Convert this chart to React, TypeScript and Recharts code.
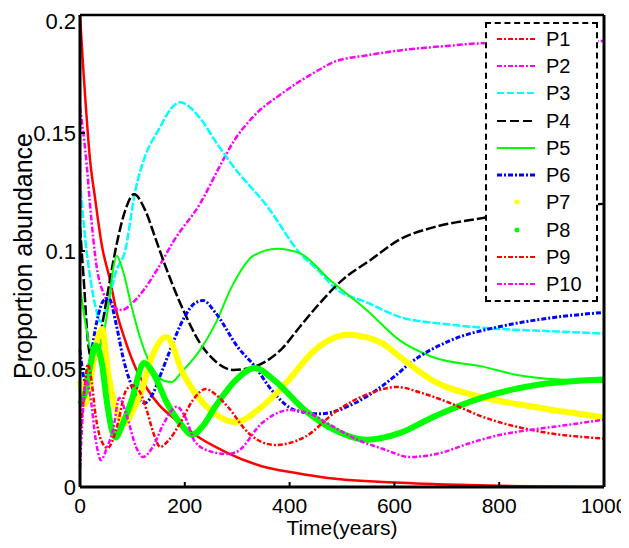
import { Legend, Line, LineChart, XAxis, YAxis } from "recharts"

type Pt = [number, number]

const xTicks = [0, 200, 400, 600, 800, 1000]
const yTicks = [0, 0.05, 0.1, 0.15, 0.2]

// values: [time (years), proportion]
const p1: Pt[] = [[0, 0.2], [6, 0.178], [10, 0.165], [19, 0.139], [29, 0.122], [42, 0.102], [57, 0.088], [70, 0.074], [85, 0.063], [107, 0.05], [130, 0.041], [150, 0.035], [180, 0.029], [220, 0.022], [282, 0.0144], [347, 0.0088], [410, 0.006], [473, 0.0038], [569, 0.0022], [700, 0.0011], [800, 0.0005], [900, 0.0002], [1000, 0.0001]]
const p2: Pt[] = [[0, 0.161], [13, 0.136], [19, 0.12], [32, 0.093], [45, 0.082], [60, 0.077], [80, 0.075], [100, 0.078], [120, 0.083], [147, 0.092], [181, 0.105], [229, 0.12], [267, 0.136], [292, 0.146], [331, 0.157], [387, 0.167], [458, 0.177], [483, 0.18], [550, 0.183], [611, 0.185], [706, 0.187], [769, 0.188], [850, 0.188], [1000, 0.189]]
const p3: Pt[] = [[0, 0.13], [10, 0.105], [20, 0.088], [30, 0.076], [40, 0.07], [55, 0.08], [70, 0.092], [86, 0.1], [105, 0.125], [124, 0.14], [149, 0.151], [181, 0.162], [191, 0.163], [230, 0.156], [260, 0.146], [292, 0.136], [357, 0.119], [420, 0.099], [458, 0.091], [483, 0.085], [550, 0.078], [611, 0.072], [700, 0.069], [800, 0.067], [900, 0.066], [1000, 0.065]]
const p4: Pt[] = [[0, 0.11], [8, 0.085], [15, 0.062], [25, 0.052], [35, 0.06], [45, 0.072], [55, 0.085], [72, 0.105], [86, 0.117], [103, 0.124], [125, 0.117], [143, 0.106], [159, 0.096], [197, 0.075], [229, 0.061], [260, 0.053], [292, 0.0496], [324, 0.0504], [387, 0.059], [420, 0.068], [458, 0.078], [502, 0.088], [553, 0.096], [611, 0.105], [674, 0.11], [769, 0.114], [850, 0.117], [1000, 0.12]]
const p5: Pt[] = [[0, 0.085], [10, 0.07], [22, 0.058], [35, 0.058], [45, 0.065], [55, 0.078], [63, 0.092], [70, 0.098], [80, 0.093], [99, 0.076], [115, 0.063], [128, 0.055], [145, 0.048], [160, 0.045], [175, 0.0445], [195, 0.049], [229, 0.058], [258, 0.069], [290, 0.085], [331, 0.098], [376, 0.101], [420, 0.099], [477, 0.0877], [547, 0.075], [611, 0.062], [674, 0.055], [769, 0.051], [834, 0.0475], [929, 0.0453], [1000, 0.0445]]
const p6: Pt[] = [[0, 0.058], [10, 0.045], [20, 0.055], [32, 0.07], [45, 0.079], [55, 0.08], [69, 0.069], [82, 0.055], [95, 0.045], [110, 0.038], [124, 0.0356], [140, 0.04], [158, 0.05], [172, 0.058], [197, 0.071], [220, 0.078], [235, 0.079], [258, 0.074], [302, 0.059], [334, 0.051], [366, 0.041], [410, 0.0326], [458, 0.031], [525, 0.0356], [601, 0.047], [630, 0.0525], [706, 0.062], [802, 0.068], [897, 0.0716], [1000, 0.074]]
const p7: Pt[] = [[0, 0.045], [10, 0.035], [20, 0.045], [30, 0.059], [42, 0.067], [54, 0.048], [72, 0.031], [86, 0.027], [100, 0.032], [118, 0.041], [137, 0.055], [165, 0.0636], [197, 0.048], [235, 0.0356], [258, 0.031], [296, 0.0275], [347, 0.034], [397, 0.045], [448, 0.058], [511, 0.0645], [576, 0.061], [611, 0.055], [674, 0.045], [769, 0.038], [865, 0.034], [1000, 0.0295]]
const p8: Pt[] = [[0, 0.035], [10, 0.04], [20, 0.052], [30, 0.06], [42, 0.052], [52, 0.035], [61, 0.024], [68, 0.021], [80, 0.026], [99, 0.037], [122, 0.0525], [140, 0.048], [166, 0.0356], [197, 0.0254], [213, 0.022], [235, 0.026], [258, 0.034], [296, 0.045], [334, 0.0504], [372, 0.045], [429, 0.0326], [487, 0.024], [547, 0.02], [611, 0.0229], [674, 0.0297], [769, 0.038], [865, 0.043], [1000, 0.0455]]
const p9: Pt[] = [[0, 0.02], [8, 0.04], [15, 0.052], [22, 0.045], [30, 0.03], [40, 0.02], [53, 0.0165], [70, 0.025], [88, 0.041], [100, 0.043], [115, 0.04], [128, 0.032], [140, 0.023], [153, 0.017], [170, 0.02], [191, 0.027], [216, 0.037], [240, 0.0415], [260, 0.039], [282, 0.034], [321, 0.023], [372, 0.0178], [429, 0.0212], [492, 0.0326], [557, 0.04], [605, 0.0424], [650, 0.04], [706, 0.0356], [769, 0.0297], [865, 0.024], [1000, 0.0205]]
const p10: Pt[] = [[0, 0.008], [5, 0.03], [12, 0.045], [20, 0.038], [30, 0.02], [40, 0.0114], [52, 0.017], [63, 0.024], [75, 0.0377], [88, 0.031], [107, 0.017], [120, 0.0127], [139, 0.017], [160, 0.027], [185, 0.034], [200, 0.03], [220, 0.019], [250, 0.015], [280, 0.014], [300, 0.015], [347, 0.027], [400, 0.0326], [440, 0.031], [480, 0.026], [530, 0.02], [580, 0.016], [630, 0.0127], [680, 0.014], [750, 0.019], [800, 0.022], [853, 0.024], [920, 0.026], [1000, 0.0285]]

const font = "'Liberation Sans', Arial, sans-serif"

const toRows = (pts: Pt[]) => pts.map(([t, v]) => ({ t, v }))

const series = [
  { name: "P1", data: p1, color: "#ff0000", width: 2.5, dash: undefined, key: "-." },
  { name: "P2", data: p2, color: "#ff00ff", width: 2.5, dash: "6 2 2 2", key: "-." },
  { name: "P3", data: p3, color: "#00ffff", width: 2.5, dash: "8 2", key: "--" },
  { name: "P4", data: p4, color: "#000000", width: 2.5, dash: "10 3", key: "--" },
  { name: "P5", data: p5, color: "#00ff00", width: 2, dash: undefined, key: "-" },
  { name: "P6", data: p6, color: "#0000ff", width: 3, dash: "5 2 2 2", key: "-." },
  { name: "P7", data: p7, color: "#ffff00", width: 6, dash: undefined, key: "." },
  { name: "P8", data: p8, color: "#00ff00", width: 6, dash: undefined, key: "." },
  { name: "P9", data: p9, color: "#ff0000", width: 2.5, dash: "5 2 2 2", key: "-." },
  { name: "P10", data: p10, color: "#ff00ff", width: 2.5, dash: "5 2 2 2", key: "-." },
]

const fmt = (v: number) => (v === 0 ? "0" : String(v))

function BottomTick(props: any) {
  const { x, y, payload } = props
  return (
    <g>
      <line x1={x} x2={x} y1={y} y2={y - 5} stroke="#000" strokeWidth={2} />
      <text x={x} y={y + 26} textAnchor="middle" fontSize={21} fontFamily={font} fill="#000">
        {payload.value}
      </text>
    </g>
  )
}

function LeftTick(props: any) {
  const { x, y, payload } = props
  return (
    <g>
      <line x1={x} x2={x + 5} y1={y} y2={y} stroke="#000" strokeWidth={2} />
      <text x={x - 4} y={Math.max(y + 8, 21)} textAnchor="end" fontSize={22} fontFamily={font} fill="#000">
        {fmt(payload.value)}
      </text>
    </g>
  )
}

function TopTick(props: any) {
  const { x, y } = props
  return <line x1={x} x2={x} y1={y} y2={y + 5} stroke="#000" strokeWidth={2} />
}

function RightTick(props: any) {
  const { x, y } = props
  return <line x1={x} x2={x - 5} y1={y} y2={y} stroke="#000" strokeWidth={2} />
}

function LegendBox() {
  return (
    <div
      style={{
        border: "2px dashed #000",
        background: "#fff",
        padding: "1px 0 2px 10px",
        boxSizing: "border-box",
        width: 113,
      }}
    >
      {series.map((s) => (
        <div key={s.name} style={{ display: "flex", alignItems: "center", height: 27.3 }}>
          <svg width={38} height={10}>
            {s.key === "." ? (
              <circle cx={20} cy={5} r={2.5} fill={s.color} />
            ) : (
              <line
                x1={0}
                x2={38}
                y1={5}
                y2={5}
                stroke={s.color}
                strokeWidth={s.name === "P6" ? 3 : 2}
                strokeDasharray={s.key === "-" ? undefined : s.key === "--" ? (s.name === "P4" ? "9 4" : "7 3") : "5 2 2 2"}
              />
            )}
          </svg>
          <span style={{ marginLeft: 11, fontSize: 20, fontFamily: font, lineHeight: 1 }}>{s.name}</span>
        </div>
      ))}
    </div>
  )
}

export default function App() {
  return (
    <LineChart width={621} height={540} margin={{ top: 6, right: 24, bottom: 21, left: 0 }}>
      <XAxis
        dataKey="t"
        type="number"
        domain={[0, 1000]}
        ticks={xTicks}
        interval={0}
        height={40}
        tickSize={0}
        tickMargin={0}
        tickLine={false}
        tick={<BottomTick />}
        axisLine={{ stroke: "#000", strokeWidth: 3 }}
        label={() => (
          <text x={334} y={527} textAnchor="middle" fontSize={21} fontFamily={font} fill="#000">
            Time(years)
          </text>
        )}
      />
      <XAxis
        xAxisId="top"
        orientation="top"
        dataKey="t"
        type="number"
        domain={[0, 1000]}
        ticks={xTicks}
        interval={0}
        height={1}
        tickSize={0}
        tickMargin={0}
        tickLine={false}
        tick={<TopTick />}
        axisLine={{ stroke: "#000", strokeWidth: 2.5 }}
      />
      <YAxis
        type="number"
        domain={[0, 0.2]}
        ticks={yTicks}
        interval={0}
        width={72}
        tickSize={0}
        tickMargin={0}
        tickLine={false}
        tick={<LeftTick />}
        axisLine={{ stroke: "#000", strokeWidth: 3 }}
        label={() => (
          <text
            x={24}
            y={248}
            transform="rotate(-90 24 248)"
            textAnchor="middle"
            fontSize={25}
            fontFamily={font}
            fill="#000"
          >
            Proportion abundance
          </text>
        )}
      />
      <YAxis
        yAxisId="right"
        orientation="right"
        type="number"
        domain={[0, 0.2]}
        ticks={yTicks}
        interval={0}
        width={1}
        tickSize={0}
        tickMargin={0}
        tickLine={false}
        tick={<RightTick />}
        axisLine={{ stroke: "#000", strokeWidth: 3 }}
      />
      {series.map((s) => (
        <Line
          key={s.name}
          name={s.name}
          data={toRows(s.data)}
          dataKey="v"
          type="monotone"
          stroke={s.color}
          strokeWidth={s.width}
          strokeDasharray={s.dash}
          dot={false}
          activeDot={false}
          isAnimationActive={false}
        />
      ))}
      <Legend
        layout="vertical"
        align="center"
        verticalAlign="middle"
        width={113}
        wrapperStyle={{ left: 477, top: 14, width: 113 }}
        content={() => <LegendBox />}
      />
    </LineChart>
  )
}
